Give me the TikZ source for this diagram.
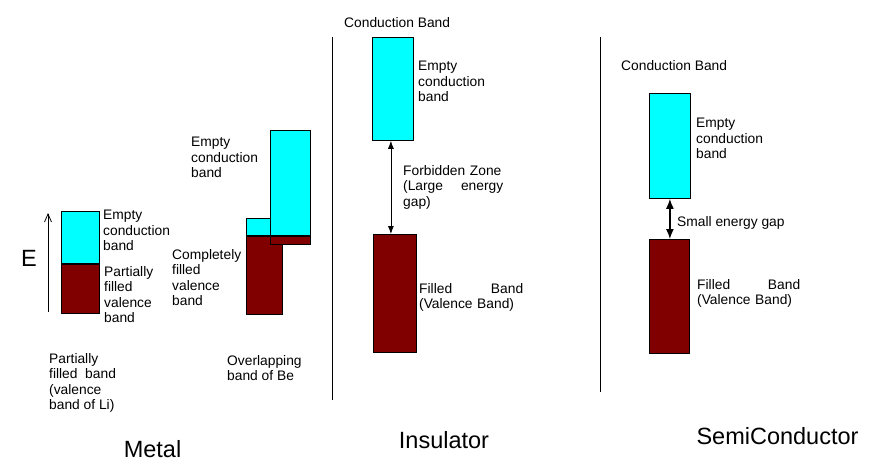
\documentclass[tikz,border=0pt]{standalone}
\usepackage{fontspec}
\setmainfont{Liberation Sans}
\usetikzlibrary{arrows, arrows.meta, positioning}
\definecolor{bcyan}{HTML}{00FFFF}
\definecolor{bmaroon}{HTML}{800000}
\tikzstyle{cband} = [rectangle, draw = black, line width = 0.8pt, fill = bcyan, inner sep = 0pt, anchor = north west]
\tikzstyle{vband} = [rectangle, draw = black, line width = 0.8pt, fill = bmaroon, inner sep = 0pt]
\tikzstyle{lbl} = [anchor = north west, inner sep = 0pt, align = left, font = \fontsize{13.8}{15.4}\selectfont]
\tikzstyle{title} = [anchor = base, inner sep = 0pt, font = \fontsize{23.5}{28}\selectfont]
\tikzstyle{gap} = [line width = 0.8pt, {Latex[length=8pt, width=6pt]}-{Latex[length=8pt, width=6pt]}]
\tikzstyle{smallgap} = [line width = 1.4pt, {Latex[length=10pt, width=8pt]}-{Latex[length=10pt, width=8pt]}]
\tikzstyle{divider} = [line width = 0.8pt]

\begin{document}
\begin{tikzpicture}[x=1pt, y=-1pt]
  \useasboundingbox (0,0) rectangle (888,472);
  % metal, Li
  \node (licb) [cband, minimum width = 38pt, minimum height = 52pt] at (61,211) {};
  \node (livb) [vband, minimum width = 38pt, minimum height = 49pt, below = 0pt of licb] {};
  \coordinate (ebot) at (48,312);
  \coordinate (etop) at (48,213);
  \draw [line width = 0.8pt, -{Straight Barb[length=8pt, width=7pt]}] (ebot) -- (etop);
  \node (e) [title] at (29,266) {E};
  \node (licbtxt) [lbl] at (103,210) {Empty\\conduction\\band};
  \node (livbtxt) [lbl] at (104,266) {Partially\\filled\\valence\\band};
  \node (litxt) [lbl] at (49,353) {Partially\\filled\ \ band\\(valence\\band of Li)};
  % metal, Be
  \node (becb1) [cband, minimum width = 36pt, minimum height = 17pt] at (246,218) {};
  \node (bevb1) [vband, minimum width = 36pt, minimum height = 78pt, below = 0pt of becb1] {};
  \node (becb2) [cband, minimum width = 40pt, minimum height = 105pt] at (270,130) {};
  \node (bevb2) [vband, minimum width = 40pt, minimum height = 8pt, below = 0pt of becb2] {};
  \node (becbtxt) [lbl] at (191,137) {Empty\\conduction\\band};
  \node (bevbtxt) [lbl] at (172,249) {Completely\\filled\\valence\\band};
  \node (betxt) [lbl] at (227,355) {Overlapping\\band of Be};
  \node (metal) [title] at (152.5,457) {Metal};
  \draw [divider] (332,37) -- (332,400);
  % insulator
  \node (inshead) [lbl] at (344,17) {Conduction Band};
  \node (inscb) [cband, minimum width = 41pt, minimum height = 103pt] at (372,37) {};
  \node (insvb) [vband, anchor = north west, minimum width = 43pt, minimum height = 118pt] at (373,234) {};
  \draw [gap] ([xshift = -2pt]inscb.south) -- ([xshift = -2pt]inscb.south |- insvb.north);
  \node (inscbtxt) [lbl] at (418,61) {Empty\\conduction\\band};
  \node (insgaptxt) [lbl, text width = 100pt] at (403,165) {Forbidden Zone\\(Large\hfill energy\\gap)};
  \node (insvbtxt) [lbl, text width = 104pt] at (419,283) {Filled\hfill Band\\(Valence Band)};
  \node (insulator) [title] at (444,448) {Insulator};
  \draw [divider] (600,37) -- (600,392);
  % semiconductor
  \node (semhead) [lbl] at (621,60) {Conduction Band};
  \node (semcb) [cband, minimum width = 41pt, minimum height = 105pt] at (649,93) {};
  \node (semvb) [vband, anchor = north west, minimum width = 40pt, minimum height = 114pt] at (649,239) {};
  \draw [smallgap] (semcb.south) -- (semcb.south |- semvb.north);
  \node (semgaptxt) [lbl] at (677,216) {Small energy gap};
  \node (semcbtxt) [lbl] at (696,118) {Empty\\conduction\\band};
  \node (semvbtxt) [lbl, text width = 103pt] at (697,279) {Filled\hfill Band\\(Valence Band)};
  \node (semi) [title] at (777.5,444) {SemiConductor};
\end{tikzpicture}
\end{document}
